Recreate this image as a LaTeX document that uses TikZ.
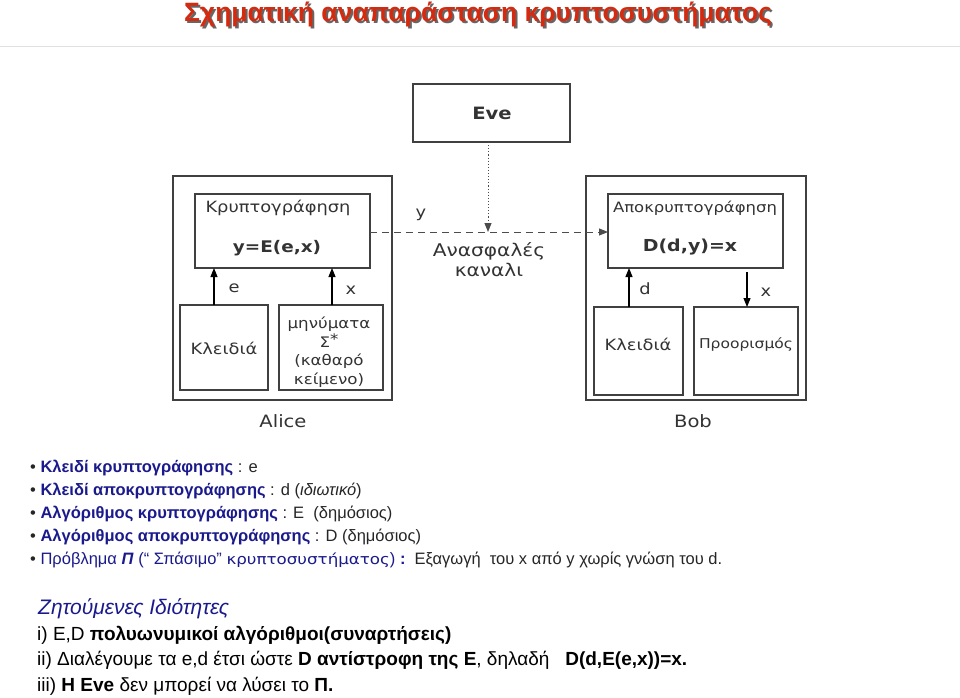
\documentclass[tikz,border=0pt]{standalone}
\usepackage{fontspec}
\setmainfont{Liberation Sans}
\newfontfamily\dv[FakeStretch=1.15]{DejaVu Sans}
\usetikzlibrary{arrows.meta}
\definecolor{tred}{HTML}{D42A10}
\definecolor{navy}{HTML}{1A1A8C}
\begin{document}
\begin{tikzpicture}[x=1pt,y=-1pt,
  box/.style={draw=black!75,line width=1.3pt,inner sep=0},
  lbl/.style={font=\dv\fontsize{15.5}{17}\selectfont,text=black!80},
  arr/.style={-{Triangle[length=9pt,width=7pt]},line width=1.1pt},
  bl/.style={anchor=west,font=\fontsize{16.5}{18}\selectfont,text=black!85,inner sep=0},
  rl/.style={anchor=west,font=\fontsize{19}{21}\selectfont,inner sep=0}]
\useasboundingbox[fill=white] (0,0) rectangle (960,697);
\node (title)[font=\bfseries\fontsize{26.5}{28}\selectfont,text=tred] at (478,15) {\rlap{\hspace{2pt}\raisebox{-2pt}{\color{black!60}Σχηματική αναπαράσταση κρυπτοσυστήματος}}Σχηματική αναπαράσταση κρυπτοσυστήματος};
\draw[black!12,line width=1pt] (0,46) -- (960,46);
% Eve
\draw[box] (413,84) rectangle (570,142);
\node (eve)[lbl,font=\dv\bfseries\fontsize{17}{19}\selectfont] at (492,113) {Eve};
\coordinate (evb) at (488,142);
% Alice
\draw[box] (173,176) rectangle (392,400);
\draw[box] (195,194) rectangle (370,268);
\node (enc)[lbl] at (278,208) {Κρυπτογράφηση};
\node (encf)[lbl,font=\dv\bfseries\fontsize{16}{17}\selectfont] at (277,248) {y=E(e,x)};
\draw[box] (180,305) rectangle (268,390);
\node (akey)[lbl] at (224,348) {Κλειδιά};
\draw[box] (279,305) rectangle (383,390);
\node (msg)[lbl,align=center,font=\dv\fontsize{14.5}{18.5}\selectfont] at (329,352) {μηνύματα\\Σ\raisebox{3pt}{*}\\(καθαρό\\κείμενο)};
\node (alice)[lbl,font=\dv\fontsize{17}{18}\selectfont] at (283,421) {Alice};
\coordinate (ae1) at (214,305); \coordinate (ae2) at (214,268);
\coordinate (ax1) at (332,305); \coordinate (ax2) at (332,268);
\draw[arr] (ae1) -- (ae2);
\draw[arr] (ax1) -- (ax2);
\node[lbl] at (234,288) {e};
\node[lbl] at (351,290) {x};
% Bob
\draw[box] (586,176) rectangle (806,400);
\draw[box] (608,194) rectangle (783,268);
\node (dec)[lbl,font=\dv\fontsize{14.3}{16}\selectfont] at (695,208) {Αποκρυπτογράφηση};
\node (decf)[lbl,font=\dv\bfseries\fontsize{16.5}{17}\selectfont] at (690,247) {D(d,y)=x};
\draw[box] (594,307) rectangle (683,395);
\node (bkey)[lbl] at (638,344) {Κλειδιά};
\draw[box] (694,307) rectangle (798,395);
\node (dest)[lbl,font=\dv\fontsize{13.5}{14}\selectfont] at (746,345) {Προορισμός};
\node (bob)[lbl,font=\dv\fontsize{17}{18}\selectfont] at (693,421) {Bob};
\coordinate (bd1) at (629,307); \coordinate (bd2) at (629,268);
\coordinate (bx1) at (747,272); \coordinate (bx2) at (747,307);
\draw[arr] (bd1) -- (bd2);
\draw[arr] (bx1) -- (bx2);
\node[lbl] at (645,289) {d};
\node[lbl] at (766,292) {x};
% channel
\coordinate (cs) at (370,232); \coordinate (ce) at (608,232); \coordinate (cm) at (488,232);
\draw[arr,dashed,dash pattern=on 7pt off 5pt,line width=1pt,black!70] (cs) -- (ce);
\draw[arr,dotted,line width=1pt,black!70] (evb) -- (cm);
\node[lbl] at (421,215) {y};
\node[lbl,align=center,font=\dv\fontsize{17.5}{20}\selectfont] at (489,260) {Ανασφαλές\\καναλι};
% text
\node[bl] at (30,468) {\textbullet\ \textcolor{navy}{\textbf{Κλειδί κρυπτογράφησης}} : e};
\node[bl] at (30,491) {\textbullet\ \textcolor{navy}{\textbf{Κλειδί αποκρυπτογράφησης}} : d (\textit{ιδιωτικό})};
\node[bl] at (30,514) {\textbullet\ \textcolor{navy}{\textbf{Αλγόριθμος κρυπτογράφησης}} : E\ \ (δημόσιος)};
\node[bl] at (30,537) {\textbullet\ \textcolor{navy}{\textbf{Αλγόριθμος αποκρυπτογράφησης}} : D (δημόσιος)};
\node[bl] at (30,560) {\textbullet\ \textcolor{navy}{Πρόβλημα \textbf{\textit{Π}} (“ Σπάσιμο” {\dv\fontsize{14.5}{16}\selectfont κρυπτοσυστήματος}) \textbf{:}}\ \ Εξαγωγή\ \ του x από y χωρίς γνώση του d.};
\node[bl,font=\fontsize{21}{23}\selectfont,text=navy] at (38,609) {\textit{Ζητούμενες Ιδιότητες}};
\node[rl] at (37,635) {i) E,D \textbf{πολυωνυμικοί αλγόριθμοι(συναρτήσεις)}};
\node[rl] at (37,660) {ii) Διαλέγουμε τα e,d έτσι ώστε \textbf{D αντίστροφη της E}, δηλαδή\ \ \ \textbf{D(d,E(e,x))=x.}};
\node[rl] at (37,686) {iii) \textbf{H Eve} δεν μπορεί να λύσει το \textbf{Π.}};
\end{tikzpicture}
\end{document}
